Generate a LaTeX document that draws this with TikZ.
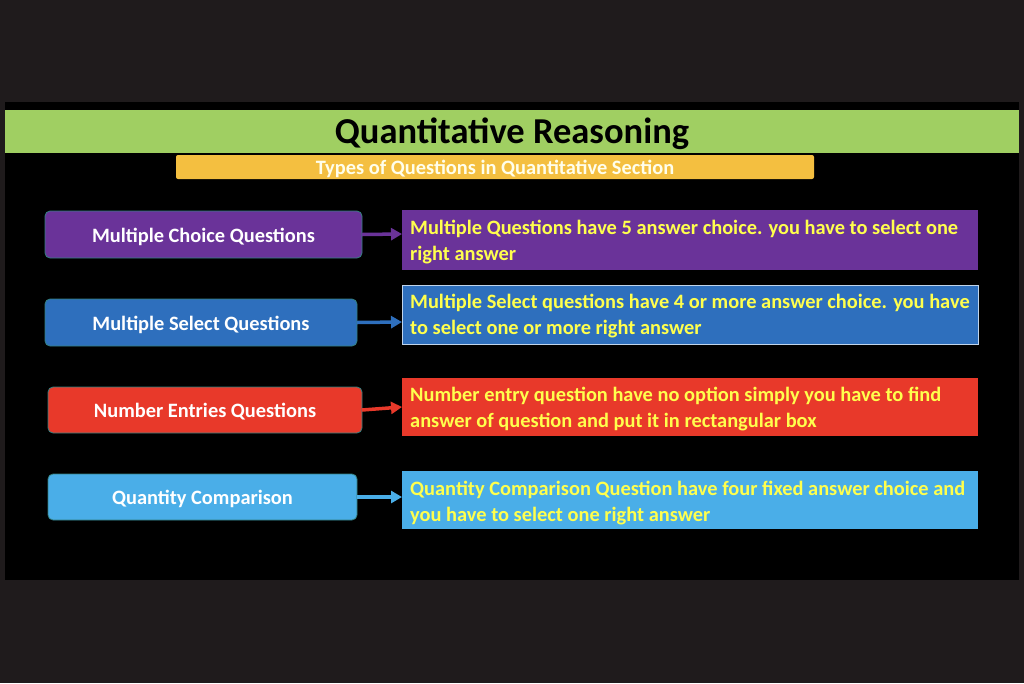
\documentclass[tikz,border=0pt]{standalone}
\usepackage{fontspec}
\setmainfont{Carlito}
\usetikzlibrary{arrows.meta}
\definecolor{bgout}{HTML}{1F1B1C}
\definecolor{tgreen}{HTML}{A0CF62}
\definecolor{torange}{HTML}{F4BF40}
\definecolor{cpur}{HTML}{6A3399}
\definecolor{cblue}{HTML}{2E6FBD}
\definecolor{cred}{HTML}{E8392A}
\definecolor{clight}{HTML}{4AAEE8}
\definecolor{ctxt}{HTML}{FFFF4D}
\begin{document}
\begin{tikzpicture}[x=1pt,y=-1pt,
  lbox/.style={rounded corners=5pt,draw=teal!60!gray,line width=0.8pt,text=white,font=\bfseries\fontsize{20.4}{24}\selectfont},
  rbox/.style={text=ctxt,inner sep=0pt,font=\bfseries\fontsize{20.4}{26}\selectfont},
  arr/.style={line width=3.5pt,-{Triangle[length=11pt,width=12pt]}}]
\fill[bgout] (0,0) rectangle (1024,683);
\fill[black] (5,102) rectangle (1019,580);
\fill[tgreen] (5,110) rectangle (1019,153);
\node[font=\bfseries\fontsize{36.5}{40}\selectfont] (title) at (512,133.5) {Quantitative Reasoning};
\fill[torange,rounded corners=2pt] (176,155) rectangle (814,179);
\node[text=white!92!yellow,font=\bfseries\fontsize{20.4}{24}\selectfont] (sub) at (495,169) {Types of Questions in Quantitative Section};
% left boxes
\foreach \n/\xa/\ya/\xb/\yb/\c/\t in {
 1/45/211/362/258/cpur/Multiple Choice Questions,
 2/45/299/357/346/cblue/Multiple Select Questions,
 3/48/387/362/433/cred/Number Entries Questions,
 4/48/474/357/520/clight/Quantity Comparison}{
  \filldraw[lbox,fill=\c] (\xa,\ya) rectangle (\xb,\yb);
  \node[lbox,draw=none] (l\n) at ({(\xa+\xb)/2},{(\ya+\yb)/2+2}) {\t};
  \coordinate (le\n) at (\xb,{(\ya+\yb)/2});
}
% right boxes
\fill[cpur] (402,210) rectangle (978,270);
\filldraw[fill=cblue,draw=white!70!cblue] (402,285) rectangle (978,344);
\fill[cred] (402,378) rectangle (978,436);
\fill[clight] (402,471) rectangle (978,529);
\node[rbox,anchor=west,align=left] (r1) at (410,242) {Multiple Questions have 5 answer choice. you have to select one\\right answer};
\node[rbox,anchor=west,align=left] (r2) at (410,316) {Multiple Select questions have 4 or more answer choice. you have\\to select one or more right answer};
\node[rbox,anchor=west,align=left] (r3) at (410,409) {Number entry question have no option simply you have to find\\answer of question and put it in rectangular box};
\node[rbox,anchor=west,align=left] (r4) at (410,503) {Quantity Comparison Question have four fixed answer choice and\\you have to select one right answer};
\coordinate (re1) at (402,234);
\coordinate (re2) at (402,322);
\coordinate (re3) at (402,407);
\coordinate (re4) at (402,497);
\draw[arr,cpur] (le1) -- (re1);
\draw[arr,cblue] (le2) -- (re2);
\draw[arr,cred] (le3) -- (re3);
\draw[arr,clight] (le4) -- (re4);
\end{tikzpicture}
\end{document}
